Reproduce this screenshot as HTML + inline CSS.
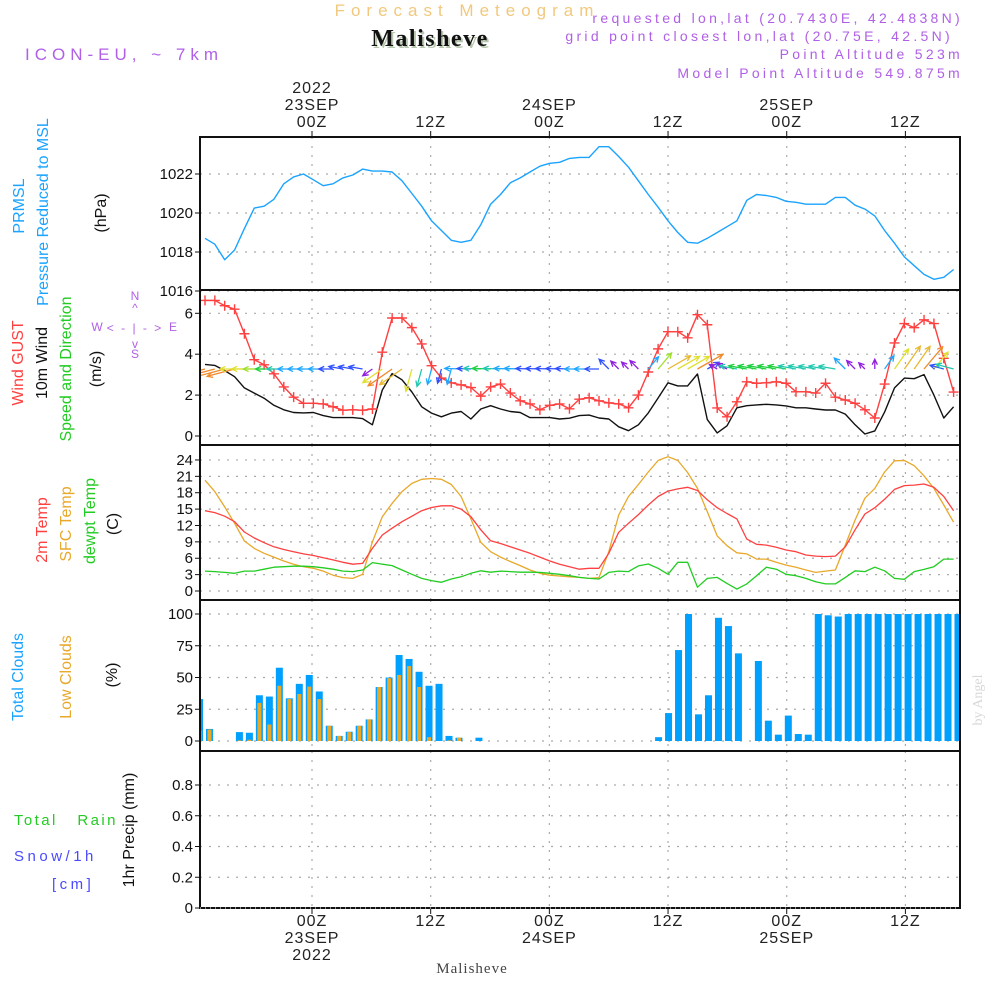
<!DOCTYPE html>
<html><head><meta charset="utf-8"><title>Forecast Meteogram - Malisheve</title>
<style>
html,body{margin:0;padding:0;background:#fff;}
svg{display:block;font-family:"Liberation Sans",sans-serif;}
</style></head>
<body>
<svg id="chart" xmlns="http://www.w3.org/2000/svg" width="1000" height="1000" viewBox="0 0 1000 1000">
<rect x="0" y="0" width="1000" height="1000" fill="#fff"/>
<!-- header -->
<text x="467" y="16" text-anchor="middle" font-size="17" letter-spacing="6" fill="#f2c87e">Forecast Meteogram</text>
<text x="432" y="48" text-anchor="middle" font-family="Liberation Serif,serif" font-weight="bold" font-size="24" letter-spacing="1.5" fill="#b8c8b0">Malisheve</text>
<text x="430" y="46" text-anchor="middle" font-family="Liberation Serif,serif" font-weight="bold" font-size="24" letter-spacing="1.5" fill="#111">Malisheve</text>
<text x="25" y="60" font-size="17" letter-spacing="5" fill="#b060e6">ICON-EU, ~ 7km</text>
<g font-size="14" letter-spacing="3.3" fill="#b060e6" text-anchor="end">
<text x="963" y="23">requested lon,lat (20.7430E, 42.4838N)</text>
<text x="953" y="41">grid point closest lon,lat (20.75E, 42.5N)</text>
<text x="963" y="59">Point Altitude 523m</text>
<text x="963" y="78">Model Point Altitude 549.875m</text>
</g>
<!-- left labels -->
<g font-size="16" text-anchor="middle">
<text transform="translate(24,206) rotate(-90)" fill="#1aa3ff">PRMSL</text>
<text transform="translate(48,212) rotate(-90)" fill="#1aa3ff">Pressure Reduced to MSL</text>
<text transform="translate(106,213) rotate(-90)" fill="#111">(hPa)</text>
<text transform="translate(23,363) rotate(-90)" fill="#ff4040">Wind GUST</text>
<text transform="translate(47,363) rotate(-90)" fill="#111">10m Wind</text>
<text transform="translate(71,369) rotate(-90)" fill="#22cc22">Speed and Direction</text>
<text transform="translate(101,369) rotate(-90)" fill="#111">(m/s)</text>
<text transform="translate(47,530) rotate(-90)" fill="#ff4040">2m Temp</text>
<text transform="translate(71,524) rotate(-90)" fill="#e8a82a">SFC Temp</text>
<text transform="translate(95,521) rotate(-90)" fill="#22cc22">dewpt Temp</text>
<text transform="translate(118,524) rotate(-90)" fill="#111">(C)</text>
<text transform="translate(23,677) rotate(-90)" fill="#1aa3ff">Total Clouds</text>
<text transform="translate(71,677) rotate(-90)" fill="#e8a82a">Low Clouds</text>
<text transform="translate(117,675) rotate(-90)" fill="#111">(%)</text>
<text transform="translate(134,830) rotate(-90)" fill="#111">1hr Precip (mm)</text>
</g>
<text x="14" y="825" font-size="15" letter-spacing="2.4" fill="#22cc22" xml:space="preserve">Total   Rain</text>
<text x="14" y="861" font-size="15" letter-spacing="3.5" fill="#4a4aff">Snow/1h</text>
<text x="52" y="889" font-size="15" letter-spacing="3.5" fill="#4a4aff">[cm]</text>
<!-- compass -->
<g font-size="12" fill="#b060e6" text-anchor="middle">
<text x="135" y="300">N</text><text x="135" y="312">^</text>
<text x="97" y="331">W</text><text x="173" y="331">E</text>
<text x="135" y="332" letter-spacing="2">&lt; - | - &gt;</text>
<text x="135" y="348">v</text><text x="135" y="358">S</text>
</g>
<text transform="translate(982,700) rotate(-90)" text-anchor="middle" font-family="Liberation Serif,serif" font-size="14" fill="#d8d8d8">by Angel</text>
<text x="472" y="973" text-anchor="middle" font-family="Liberation Serif,serif" font-size="15" letter-spacing="1" fill="#444">Malisheve</text>
<g id="plot"></g>
</svg>
<script>
// ---- data ----
const pressure = [1018.7,1018.4,1017.6,1018.1,1019.2,1020.25,1020.35,1020.7,1021.5,1021.85,1022.0,1021.7,1021.4,1021.5,1021.8,1021.95,1022.25,1022.15,1022.15,1022.1,1021.65,1021.0,1020.35,1019.6,1019.1,1018.6,1018.5,1018.6,1019.4,1020.45,1020.95,1021.55,1021.8,1022.1,1022.4,1022.55,1022.6,1022.8,1022.85,1022.85,1023.4,1023.4,1022.9,1022.35,1021.65,1020.95,1020.3,1019.6,1019.0,1018.5,1018.45,1018.7,1019.0,1019.3,1019.6,1020.65,1020.95,1020.9,1020.8,1020.6,1020.55,1020.45,1020.45,1020.45,1020.8,1020.8,1020.4,1020.2,1019.85,1019.1,1018.45,1017.75,1017.3,1016.85,1016.6,1016.7,1017.1];
const gust = [6.63,6.63,6.37,6.2,5.0,3.73,3.48,3.04,2.4,1.9,1.6,1.6,1.57,1.43,1.26,1.28,1.26,1.32,4.1,5.77,5.77,5.3,4.5,3.44,2.83,2.6,2.5,2.37,1.95,2.4,2.54,2.1,1.72,1.57,1.28,1.5,1.57,1.33,1.8,1.87,1.72,1.62,1.57,1.38,2.0,3.13,4.26,5.1,5.1,4.8,5.93,5.44,1.37,0.94,1.67,2.65,2.58,2.6,2.65,2.58,2.16,2.16,2.1,2.58,1.9,1.76,1.6,1.28,0.88,2.54,4.55,5.5,5.3,5.68,5.5,3.8,2.15];
const wind = [3.5,3.45,3.2,2.9,2.35,2.1,1.85,1.5,1.28,1.15,1.13,1.15,1.0,0.9,0.9,0.9,0.85,0.55,2.25,3.05,2.75,2.15,1.43,1.12,0.94,1.12,1.2,0.83,1.32,1.48,1.32,1.2,1.15,0.9,0.9,0.9,0.83,0.87,1.0,1.02,0.88,0.83,0.45,0.26,0.55,1.13,1.86,2.6,2.45,2.45,3.03,0.8,0.15,0.5,1.38,1.48,1.52,1.55,1.52,1.47,1.38,1.38,1.32,1.27,1.27,1.07,0.55,0.1,0.25,1.17,2.35,2.83,2.8,3.0,2.0,0.88,1.43];
const windDir = [195,195,195,195,180,180,180,180,180,180,180,180,180,180,170,170,170,215,215,215,215,255,255,255,255,255,178,178,178,178,178,178,178,178,178,178,178,178,180,180,180,135,135,135,135,50,50,30,30,30,30,30,150,150,170,170,170,170,170,170,170,170,170,170,170,135,135,135,90,55,55,55,55,50,50,165,165];
const temp2m = [14.7,14.35,13.7,12.7,10.8,9.7,8.85,8.1,7.6,7.2,6.8,6.5,6.1,5.7,5.25,4.9,5.05,7.8,10.25,11.5,12.7,13.7,14.7,15.3,15.6,15.6,15.0,13.6,11.2,9.2,8.7,8.1,7.5,6.9,6.2,5.5,4.9,4.45,4.0,4.15,4.15,6.9,10.75,12.4,14.0,15.75,17.3,18.3,18.7,19.0,18.4,16.7,15.25,14.2,13.2,9.5,8.55,8.4,8.0,7.5,7.2,6.6,6.4,6.3,6.4,8.1,11.2,14.1,15.25,16.8,18.6,19.3,19.4,19.6,19.0,17.3,14.7];
const tempSfc = [20.3,18.2,15.4,12.4,9.15,7.8,6.9,6.2,5.5,4.9,4.45,4.15,3.65,2.9,2.45,2.3,3.05,9.0,13.6,16.05,18.2,19.7,20.45,20.6,20.45,19.5,17.3,13.2,8.9,7.2,6.2,5.4,4.65,3.85,3.25,2.9,2.75,2.6,2.5,2.3,2.45,7.2,13.9,17.3,19.5,21.8,23.9,24.6,23.9,21.7,18.8,14.5,10.1,8.3,7.0,6.8,5.85,5.85,5.25,4.75,4.35,3.85,3.4,3.65,3.85,8.4,13.0,17.0,18.8,21.8,23.85,23.9,22.95,21.1,18.8,15.75,12.6];
const dewpt = [3.65,3.55,3.4,3.25,3.65,3.65,4.0,4.35,4.45,4.55,4.55,4.45,4.25,4.0,3.65,3.55,3.85,5.2,4.9,4.65,3.85,3.05,2.3,1.9,1.6,2.2,2.6,3.25,3.7,3.45,3.65,3.55,3.45,3.45,3.4,3.25,3.05,2.8,2.5,2.3,2.2,3.4,3.65,3.55,4.6,4.95,4.15,3.05,5.25,5.25,0.7,2.3,2.5,1.4,0.35,1.3,2.8,4.35,4.0,3.05,2.8,2.3,1.7,1.3,1.3,2.5,3.7,3.55,4.35,3.7,2.3,2.15,3.55,3.95,4.45,5.85,5.85];
const totalClouds = [33,9.5,0,0,7,6.5,36,35,57.7,33.6,45,52,39,12,4,7.3,12,17,42.5,50,67.7,64.6,54.5,43.5,45,4,2.6,0,2.6,0,0,0,0,0,0,0,0,0,0,0,0,0,0,0,0,0,3,22,71.6,100,21,36,97,90.5,69,0,63,16,5,20,5.5,5,100,99,98,100,100,100,100,100,100,100,100,100,100,100,100];
const lowClouds = [8,9,0,0,0.5,1,30,13,43.5,33,37,42.8,33,12,4,7,12,17,42.5,49.5,52,59,42.5,3,0,0.5,2.6,0,0,0,0,0,0,0,0,0,0,0,0,0,0,0,0,0,0,0,0,0,0,0,0,0,0,0,0,0,0,0,0,0,0,0,0,0,0,0,0,0,0,0,0,0,0,0,0,0,0];
const precip = [0,0,0,0,0,0,0,0,0,0,0,0,0,0,0,0,0,0,0,0,0,0,0,0,0,0,0,0,0,0,0,0,0,0,0,0,0,0,0,0,0,0,0,0,0,0,0,0,0,0,0,0,0,0,0,0,0,0,0,0,0,0,0,0,0,0,0,0,0,0,0,0,0,0,0,0,0];
const pressTicks = [1016,1018,1020,1022];
const windTicks = [0,2,4,6];
const tempTicks = [0,3,6,9,12,15,18,21,24];
const cloudTicks = [0,25,50,75,100];
const precipTicks = [0,0.2,0.4,0.6,0.8];
const timeHours = [0,12,24,36,48,60];
const timeLabels = ["00Z","12Z","00Z","12Z","00Z","12Z"];
const dayLabels = ["23SEP","","24SEP","","25SEP",""];
const yearLabels = ["2022","","","","",""];

// ---- axes ----
const NS = "http://www.w3.org/2000/svg";
const X0 = 200, X1 = 960;
const xLine = i => 205 + 9.85 * i;
const xBar = i => 199.5 + 9.98 * i;
const xTime = h => 312 + 9.89 * h;
const yP = p => 174 + (1022 - p) * 19.5;
const yW = v => 436 - v * 20.45;
const yT = t => 591 - t * 5.46;
const yC = c => 741 - c * 1.27;
const yR = r => 908 - r * 153.75;
const panels = [[137,290],[290,445],[445,600],[600,751],[751,908]];
const plot = document.getElementById('plot');
function mk(tag, attrs, parent) {
  const e = document.createElementNS(NS, tag);
  for (const k in attrs) e.setAttribute(k, attrs[k]);
  (parent || plot).appendChild(e);
  return e;
}
const clip = mk('clipPath', {id: 'pc'});
mk('rect', {x: X0, y: 137, width: X1 - X0, height: 771}, clip);

// grid
const grid = mk('g', {stroke: '#aaa', 'stroke-width': 1.2, 'stroke-dasharray': '2,7'});


timeHours.forEach(h => { const x = xTime(h); panels.forEach(p => mk('line', {x1: x, x2: x, y1: p[0], y2: p[1]}, grid)); });
function hgrid(ticks, f, name) {
  const g = mk('g', {'font-size': 15, fill: '#111', 'text-anchor': 'end'});
  
  
  ticks.forEach(t => {
    const y = f(t);
    mk('line', {x1: X0, x2: X1, y1: y, y2: y}, grid);
    mk('line', {x1: X0 - 5, x2: X0, y1: y, y2: y, stroke: '#111'}, g);
    const tx = mk('text', {x: 193, y: y + 5}, g);
    tx.textContent = t;
  });
}
hgrid(pressTicks, yP, 'pressure-y-axis');
hgrid(windTicks, yW, 'wind-y-axis');
hgrid(tempTicks, yT, 'temp-y-axis');
hgrid(cloudTicks, yC, 'cloud-y-axis');
hgrid(precipTicks, yR, 'precip-y-axis');

// time axes
const ta = mk('g', {'font-size': 16, fill: '#222', 'text-anchor': 'middle', 'letter-spacing': 1});


timeHours.forEach((h, k) => {
  const x = xTime(h);
  mk('line', {x1: x, x2: x, y1: 131, y2: 137, stroke: '#111'}, ta);
  mk('line', {x1: x, x2: x, y1: 908, y2: 914, stroke: '#111'}, ta);
  let t = mk('text', {x: x, y: 127}, ta); t.textContent = timeLabels[k];
  t = mk('text', {x: x, y: 110}, ta); t.textContent = dayLabels[k];
  t = mk('text', {x: x, y: 93}, ta); t.textContent = yearLabels[k];
  t = mk('text', {x: x, y: 926}, ta); t.textContent = timeLabels[k];
  t = mk('text', {x: x, y: 943}, ta); t.textContent = dayLabels[k];
  t = mk('text', {x: x, y: 960}, ta); t.textContent = yearLabels[k];
});

// series
const series = mk('g', {'clip-path': 'url(#pc)'});
function line(arr, fy, color, name, w) {
  const d = arr.map((v, i) => (i ? 'L' : 'M') + xLine(i).toFixed(1) + ',' + fy(v).toFixed(1)).join('');
  const p = mk('path', {d: d, fill: 'none', stroke: color, 'stroke-width': w || 1.4, 'stroke-linejoin': 'round'}, series);
  
  
}
// clouds
totalClouds.forEach((v, i) => {
  if (v <= 0) return;
  const r = mk('rect', {x: xBar(i) - 3.5, y: yC(v), width: 7, height: yC(0) - yC(v), fill: '#00a0ff'}, series);
  
  
});
lowClouds.forEach((v, i) => {
  if (v <= 0) return;
  const r = mk('rect', {x: xBar(i) - 2, y: yC(v), width: 4, height: yC(0) - yC(v), fill: '#e8a82a'}, series);
  
  
});
precip.forEach((v, i) => {
  if (v <= 0) return;
  const r = mk('rect', {x: xBar(i) - 3.5, y: yR(v), width: 7, height: yR(0) - yR(v), fill: '#22cc22'}, series);
  
  
});
line(pressure, yP, '#1aa3ff', 'pressure-line');
line(wind, yW, '#111', 'wind-speed-line');
line(gust, yW, '#ff4040', 'wind-gust-line');
gust.forEach((v, i) => {
  const x = xLine(i), y = yW(v);
  const m = mk('path', {d: `M${x-5},${y}h10M${x},${y-5}v10`, stroke: '#ff4040', 'stroke-width': 1.4}, series);
  
  
});
function speedColor(s) {
  if (s >= 2.9) return '#f08a2a';
  if (s >= 2.5) return '#e8b830';
  if (s >= 2.0) return '#e0e030';
  if (s >= 1.7) return '#a0e030';
  if (s >= 1.45) return '#20d040';
  if (s >= 1.25) return '#20c8b0';
  if (s >= 1.0) return '#20a8ff';
  if (s >= 0.7) return '#3050ff';
  return '#9020e0';
}
windDir.forEach((d, i) => {
  const s = wind[i];
  const L = 8 + 7 * s;
  const a = d * Math.PI / 180;
  const x0 = xLine(i), y0 = 369;
  const x1 = x0 + L * Math.cos(a), y1 = y0 - L * Math.sin(a);
  const h1 = a + Math.PI - 0.45, h2 = a + Math.PI + 0.45;
  const c = speedColor(s);
  const p = mk('path', {d: `M${x0.toFixed(1)},${y0}L${x1.toFixed(1)},${y1.toFixed(1)}M${(x1+6*Math.cos(h1)).toFixed(1)},${(y1-6*Math.sin(h1)).toFixed(1)}L${x1.toFixed(1)},${y1.toFixed(1)}L${(x1+6*Math.cos(h2)).toFixed(1)},${(y1-6*Math.sin(h2)).toFixed(1)}`, stroke: c, fill: 'none', 'stroke-width': 1.3}, series);
  
  
});
line(tempSfc, yT, '#e8a82a', 'sfc-temp-line', 1.3);
line(temp2m, yT, '#ff4040', '2m-temp-line', 1.3);
line(dewpt, yT, '#22cc22', 'dewpt-line', 1.3);

// frames
panels.forEach((p, k) => {
  const r = mk('rect', {x: X0, y: p[0], width: X1 - X0, height: p[1] - p[0], fill: 'none', stroke: '#111', 'stroke-width': 2});
  
  
});
const bl = mk('line', {x1: X0, x2: X1, y1: 908, y2: 908, stroke: '#fff', 'stroke-width': 1, 'stroke-dasharray': '1,4'});


</script>
</body></html>
